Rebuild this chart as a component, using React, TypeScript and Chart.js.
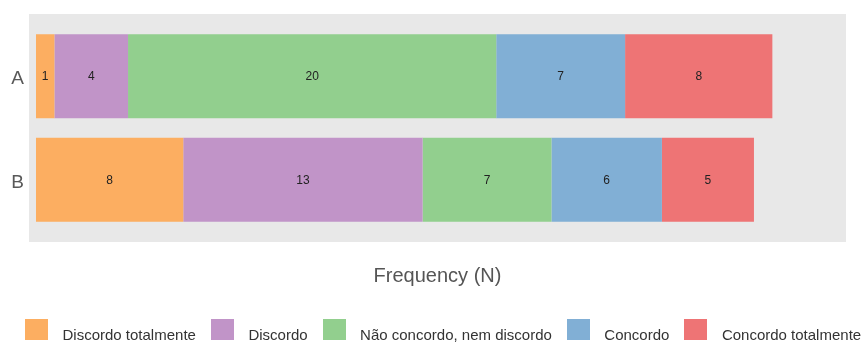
import React, { useEffect, useRef } from "react";
import { Chart, registerables } from "chart.js";

Chart.register(...registerables);

const categories = ["A", "B"];
const seriesNames = [
  "Discordo totalmente",
  "Discordo",
  "Não concordo, nem discordo",
  "Concordo",
  "Concordo totalmente",
];
const discordoTotalmente = [1, 8];
const discordo = [4, 13];
const naoConcordoNemDiscordo = [20, 7];
const concordo = [7, 6];
const concordoTotalmente = [8, 5];
const seriesColors = ["#FCAE61", "#C194C8", "#92CF8E", "#81AFD5", "#EE7475"];
const axisTitle = "Frequency (N)";

const FONT = "'Liberation Sans', Arial, sans-serif";

export default function App() {
  const ref = useRef<HTMLCanvasElement>(null);

  useEffect(() => {
    const canvas = ref.current;
    if (!canvas) return;
    const values = [
      discordoTotalmente,
      discordo,
      naoConcordoNemDiscordo,
      concordo,
      concordoTotalmente,
    ];

    const panelPlugin = {
      id: "panelBg",
      beforeDraw(chart: any) {
        const { ctx, chartArea } = chart;
        ctx.save();
        ctx.fillStyle = "#E8E8E8";
        ctx.fillRect(chartArea.left, chartArea.top, chartArea.right - chartArea.left, chartArea.bottom - chartArea.top);
        ctx.restore();
      },
    };

    const labelPlugin = {
      id: "barLabels",
      afterDatasetsDraw(chart: any) {
        const { ctx } = chart;
        ctx.save();
        ctx.font = `12px ${FONT}`;
        ctx.fillStyle = "#222222";
        ctx.textAlign = "center";
        ctx.textBaseline = "middle";
        chart.data.datasets.forEach((ds: any, i: number) => {
          const meta = chart.getDatasetMeta(i);
          meta.data.forEach((el: any, j: number) => {
            const p = el.getCenterPoint();
            ctx.fillText(String(values[i][j]), p.x, p.y + 1);
          });
        });
        ctx.restore();
      },
    };

    const legendPlugin = {
      id: "bottomLegend",
      afterDraw(chart: any) {
        const { ctx } = chart;
        const boxW = 23;
        const boxH = 21;
        const boxTop = 319;
        const gapBoxText = 14.5;
        const gapTextBox = 15;
        let x = 25;
        ctx.save();
        ctx.font = `15px ${FONT}`;
        ctx.textBaseline = "alphabetic";
        ctx.textAlign = "left";
        chart.data.datasets.forEach((ds: any) => {
          ctx.fillStyle = ds.backgroundColor;
          ctx.fillRect(Math.round(x), boxTop, boxW, boxH);
          x += boxW + gapBoxText;
          ctx.fillStyle = "#333333";
          ctx.fillText(ds.label, x, 340);
          x += ctx.measureText(ds.label).width + gapTextBox;
        });
        ctx.restore();
      },
    };

    const chart = new Chart(canvas, {
      type: "bar",
      data: {
        datasets: seriesNames.map((name, i) => ({
          label: name,
          data: values[i].map((v, j) => ({ x: v, y: j + 1 })),
          backgroundColor: seriesColors[i],
          borderWidth: 0,
          stack: "s",
          barPercentage: 0.81,
          categoryPercentage: 1,
        })),
      },
      options: {
        indexAxis: "y",
        animation: false,
        responsive: false,
        maintainAspectRatio: false,
        layout: { padding: { left: 0, top: 14, right: 15, bottom: 0 } },
        plugins: {
          legend: { display: false },
          tooltip: { enabled: false },
        },
        scales: {
          x: {
            type: "linear",
            stacked: true,
            offset: false,
            min: -0.38,
            max: 44,
            grid: { display: false, drawTicks: false },
            border: { display: false },
            ticks: { display: false },
            title: {
              display: true,
              text: axisTitle,
              color: "#555555",
              font: { family: FONT, size: 20 },
              padding: { top: 0, bottom: 55 },
            },
            afterFit(s: any) {
              s.height = 101;
              s.paddingLeft = 0;
              s.paddingRight = 0;
            },
          },
          y: {
            type: "linear",
            stacked: true,
            offset: false,
            reverse: true,
            min: 0.4,
            max: 2.6,
            grid: { display: false, offset: false, drawTicks: false },
            border: { display: false },
            afterBuildTicks(s: any) {
              s.ticks = categories.map((_, i) => ({ value: i + 1 }));
            },
            ticks: {
              padding: 5,
              labelOffset: 3,
              color: "#595959",
              font: { family: FONT, size: 19 },
              callback: (v: any) => categories[Number(v) - 1] ?? "",
            },
            afterFit(s: any) {
              s.width = 29;
              s.paddingTop = 0;
              s.paddingBottom = 0;
            },
          },
        },
      } as any,
      plugins: [panelPlugin, labelPlugin, legendPlugin],
    });

    return () => chart.destroy();
  }, []);

  return (
    <div style={{ position: "absolute", left: 0, top: 0, width: 861, height: 343 }}>
      <canvas ref={ref} width={861} height={343} style={{ display: "block" }} />
    </div>
  );
}
